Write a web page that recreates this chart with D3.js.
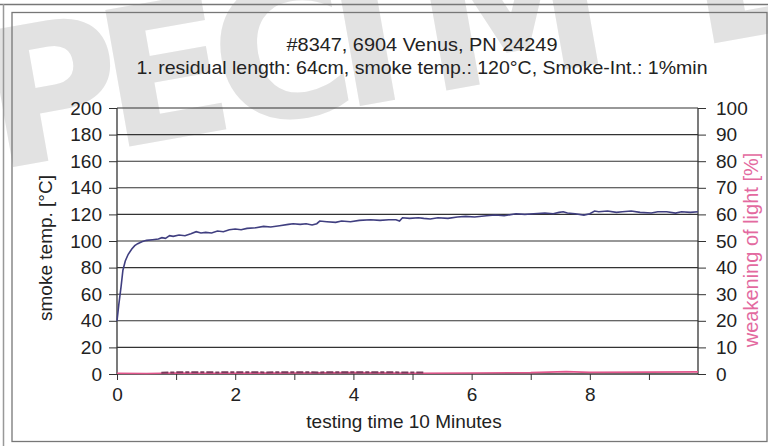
<!DOCTYPE html>
<html>
<head>
<meta charset="utf-8">
<script src="https://cdn.jsdelivr.net/npm/d3@7"></script>
<style>
  body { margin: 0; background: #fff; }
  svg { display: block; font-family: "Liberation Sans", Arial, sans-serif; }
</style>
</head>
<body>
<div class="chart"></div>
<script>
// chart texts
const titleLines = ['#8347, 6904 Venus, PN 24249',
  '1. residual length: 64cm, smoke temp.: 120°C, Smoke-Int.: 1%min'];
const titleWidths = [271, 571]; // measured widths of the two title lines
const xTitle = 'testing time 10 Minutes';
const yLeftTitle = 'smoke temp.  [°C]';
const yRightTitle = 'weakening of light [%]';
const watermark = 'PECIMEN';

// smoke temperature
const timeMin = [0, 0.03, 0.07, 0.1, 0.14, 0.19, 0.25, 0.3, 0.35, 0.42, 0.5, 0.6, 0.7, 0.76, 0.82, 0.89, 0.95,
  1.05, 1.15, 1.25, 1.34, 1.42, 1.5, 1.6, 1.7, 1.8, 1.9, 2.0, 2.1, 2.2, 2.35, 2.48, 2.6, 2.75, 2.9, 2.98,
  3.1, 3.2, 3.3, 3.38, 3.43, 3.55, 3.7, 3.8, 3.95, 4.1, 4.29, 4.45, 4.6, 4.72, 4.78, 4.83, 4.95, 5.1, 5.19,
  5.3, 5.43, 5.6, 5.76, 5.9, 6.05, 6.25, 6.4, 6.55, 6.75, 6.9, 7.05, 7.24, 7.38, 7.48, 7.55, 7.62, 7.75,
  7.9, 8.0, 8.08, 8.15, 8.3, 8.45, 8.55, 8.7, 8.85, 9.04, 9.15, 9.3, 9.45, 9.55, 9.7, 9.83];
const smokeTemp = [40, 52, 66, 78, 85, 90, 94, 96.5, 98, 99.5, 100.5, 101, 101.5, 102.5, 102, 104, 103.5,
  104.5, 104, 105.5, 107, 106, 106.5, 106, 107.5, 107, 108.5, 109, 108.5, 109.5, 110, 111, 110.5, 111.5, 112.5, 113,
  112.5, 113, 112, 113, 115, 114.5, 114, 115, 114.5, 115.5, 116, 115.5, 116, 116, 115, 117.5, 117, 117.5, 117,
  116.5, 117.5, 117, 118, 118.5, 118, 119, 119.5, 119, 120.5, 120, 120.5, 121, 120.5, 121.5, 122, 121, 120.5,
  119.5, 120.5, 122.5, 122, 122.5, 121.5, 122, 122.5, 121.5, 121, 122, 122, 121, 122, 121.5, 122];

// weakening of light (right axis)
const lightTime = [0, 0.5, 1, 1.5, 2, 3, 4, 5, 6, 7, 7.6, 8, 9, 9.83];
const lightVal = [0.3, 0.2, 0.4, 0.3, 0.3, 0.4, 0.5, 0.3, 0.4, 0.5, 0.9, 0.6, 0.7, 0.8];
// darker smudged stretch on the light trace
const darkTime = [0.75, 1.2, 1.7, 2.1, 2.5, 3.0, 3.4, 3.8, 4.3, 4.8, 5.2];
const darkVal = [0.5, 0.7, 0.6, 0.7, 0.6, 0.7, 0.6, 0.7, 0.7, 0.6, 0.6];

const xTicks = [0, 1, 2, 3, 4, 5, 6, 7, 8, 9];
const leftTicks = [0, 20, 40, 60, 80, 100, 120, 140, 160, 180, 200];
const rightTicks = [0, 10, 20, 30, 40, 50, 60, 70, 80, 90, 100];

const W = 768, H = 446;
const mLeft = 117, mRight = 698, mTop = 108, mBottom = 374;
const font = '"Liberation Sans", Arial, sans-serif';

const svg = d3.select('.chart').append('svg')
  .attr('width', W)
  .attr('height', H);

svg.append('rect').attr('width', W).attr('height', H).attr('fill', '#fff');

// watermark behind everything, letters spaced like the scan
svg.append('text')
  .attr('transform', 'translate(-4,170) rotate(-10)')
  .attr('font-size', 190)
  .attr('font-weight', 'bold')
  .attr('font-family', '"DejaVu Sans", sans-serif')
  .attr('fill', '#e2e2e2')
  .selectAll('tspan')
  .data(watermark.split(''))
  .enter()
  .append('tspan')
  .attr('x', (d, i) => [0, 118, 232, 352, 440, 712, 850][i])
  .text(d => d);

// frames
svg.append('line').attr('x1', 0).attr('x2', W).attr('y1', 4.5).attr('y2', 4.5)
  .attr('stroke', '#777').attr('stroke-width', 1.5);
svg.append('line').attr('x1', 3.5).attr('x2', 3.5).attr('y1', 4).attr('y2', H)
  .attr('stroke', '#999').attr('stroke-width', 1.5);
svg.append('rect').attr('x', 12).attr('y', 12.5).attr('width', W - 13).attr('height', 429)
  .attr('fill', 'none').attr('stroke', '#777').attr('stroke-width', 1.3);

const x = d3.scaleLinear().domain([0, 9.83]).range([mLeft, mRight]);
const yL = d3.scaleLinear().domain([0, 200]).range([mBottom, mTop]);
const yR = d3.scaleLinear().domain([0, 100]).range([mBottom, mTop]);

// gridlines
svg.append('g')
  .selectAll('line')
  .data(leftTicks.filter(d => d > 0))
  .enter()
  .append('line')
  .attr('x1', mLeft).attr('x2', mRight)
  .attr('y1', d => yL(d)).attr('y2', d => yL(d))
  .attr('stroke', '#333').attr('stroke-width', 1.1);

// left axis
const gL = svg.append('g')
  .attr('transform', `translate(${mLeft},0)`)
  .call(d3.axisLeft(yL).tickValues(leftTicks).tickSize(8).tickPadding(7));
// right axis
const gR = svg.append('g')
  .attr('transform', `translate(${mRight},0)`)
  .call(d3.axisRight(yR).tickValues(rightTicks).tickSize(8).tickPadding(10));
// bottom axis
const gB = svg.append('g')
  .attr('transform', `translate(0,${mBottom})`)
  .call(d3.axisBottom(x).tickValues(xTicks).tickSize(6).tickPadding(8)
    .tickFormat(d => d % 2 === 0 ? d : ''));

[gL, gR, gB].forEach(g => {
  g.select('.domain').attr('stroke', '#333').attr('stroke-width', 1.3);
  g.selectAll('.tick line').attr('stroke', '#333');
  g.selectAll('.tick text').attr('font-size', 19).attr('fill', '#222')
    .attr('font-family', font);
});
gB.select('.domain').attr('d', `M${mLeft},0H${mRight}`);
gL.select('.domain').attr('d', `M0,${mTop}V${mBottom}`);
gR.select('.domain').attr('d', `M0,${mTop}V${mBottom}`);

// light trace
const lineR = d3.line().x(d => x(d[0])).y(d => yR(d[1]));
svg.append('path')
  .datum(d3.zip(lightTime, lightVal))
  .attr('d', lineR)
  .attr('fill', 'none')
  .attr('stroke', '#e2568c')
  .attr('stroke-width', 1.6);
svg.append('path')
  .datum(d3.zip(darkTime, darkVal))
  .attr('d', lineR)
  .attr('fill', 'none')
  .attr('stroke', '#7b3a5c')
  .attr('stroke-width', 2)
  .attr('stroke-dasharray', '7,2,4,2');

// smoke temperature trace
svg.append('path')
  .datum(d3.zip(timeMin, smokeTemp))
  .attr('d', d3.line().x(d => x(d[0])).y(d => yL(d[1])))
  .attr('fill', 'none')
  .attr('stroke', '#403f80')
  .attr('stroke-width', 1.6);

// titles
svg.append('g')
  .selectAll('text')
  .data(titleLines)
  .enter()
  .append('text')
  .attr('x', 422)
  .attr('y', (d, i) => 51 + i * 23)
  .attr('text-anchor', 'middle')
  .attr('font-size', 19)
  .attr('textLength', (d, i) => titleWidths[i])
  .attr('lengthAdjust', 'spacingAndGlyphs')
  .attr('fill', '#222')
  .text(d => d);

svg.append('text')
  .attr('x', 404)
  .attr('y', 428)
  .attr('text-anchor', 'middle')
  .attr('font-size', 19)
  .attr('fill', '#222')
  .text(xTitle);

svg.append('text')
  .attr('transform', `translate(52,248) rotate(-90)`)
  .attr('text-anchor', 'middle')
  .attr('font-size', 19)
  .attr('fill', '#222')
  .text(yLeftTitle);

svg.append('text')
  .attr('transform', `translate(758,250) rotate(-90)`)
  .attr('text-anchor', 'middle')
  .attr('font-size', 20)
  .attr('fill', '#e36aa0')
  .text(yRightTitle);
</script>
</body>
</html>
